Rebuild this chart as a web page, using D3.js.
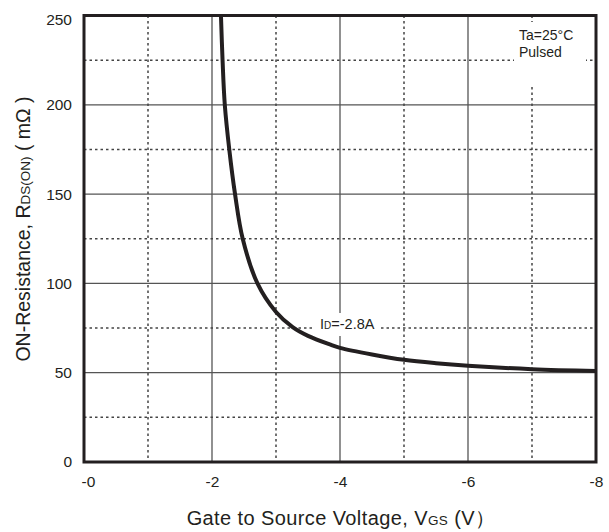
<!DOCTYPE html>
<html>
<head>
<meta charset="utf-8">
<script src="https://cdn.jsdelivr.net/npm/d3@7"></script>
<style>
  body { margin: 0; background: #fff; }
  svg { display: block; font-family: "Liberation Sans", Arial, sans-serif; }
</style>
</head>
<body>
<svg id="chart" width="609" height="532"></svg>
<script>
// ---- data ----
const vgs = [-2.14, -2.165, -2.20, -2.27, -2.36, -2.48, -2.71, -3.0, -3.26, -3.5, -3.84, -4.0, -4.5, -5.0, -5.5, -6.0, -7.0, -8.0];
const rds = [250, 225, 200, 175, 150, 125, 100, 84, 75.5, 70.6, 65.8, 63.9, 60.2, 57.2, 55.3, 53.9, 52.0, 51];
const xTickValues = [0, -2, -4, -6, -8];
const xTickLabels = ["-0", "-2", "-4", "-6", "-8"];
const xMinorValues = [-1, -3, -5, -7];
const yTickValues = [0, 50, 100, 150, 200, 250];
const yMinorValues = [25, 75, 125, 175, 225];

const svg = d3.select("#chart");
const L = 84, R = 596, T = 15.5, B = 462;
const x = d3.scaleLinear().domain([0, -8]).range([L, R]);
const y = d3.scaleLinear().domain([0, 250]).range([B, T]);

const grid = svg.append("g");
// solid major grid
grid.selectAll(".vx").data(xTickValues.slice(1, -1)).enter().append("line")
  .attr("x1", d => x(d)).attr("x2", d => x(d)).attr("y1", T).attr("y2", B)
  .attr("stroke", "#555").attr("stroke-width", 1.3);
grid.selectAll(".hy").data(yTickValues.slice(1, -1)).enter().append("line")
  .attr("x1", L).attr("x2", R).attr("y1", d => y(d)).attr("y2", d => y(d))
  .attr("stroke", "#555").attr("stroke-width", 1.3);
// dotted minor grid
grid.selectAll(".mx").data(xMinorValues).enter().append("line")
  .attr("x1", d => x(d)).attr("x2", d => x(d)).attr("y1", T).attr("y2", B)
  .attr("stroke", "#444").attr("stroke-width", 1.5).attr("stroke-dasharray", "2.5,3");
grid.selectAll(".my").data(yMinorValues).enter().append("line")
  .attr("x1", L).attr("x2", R).attr("y1", d => y(d)).attr("y2", d => y(d))
  .attr("stroke", "#444").attr("stroke-width", 1.5).attr("stroke-dasharray", "2.5,3");

// white backing for annotation text
svg.append("rect").attr("x", 514).attr("y", 22).attr("width", 72).attr("height", 64).attr("fill", "#fff");

// curve
svg.append("clipPath").attr("id", "clip").append("rect")
  .attr("x", L).attr("y", T).attr("width", R - L).attr("height", B - T);
const pts = vgs.map((v, i) => [v, rds[i]]);
const line = d3.line().x(d => x(d[0])).y(d => y(d[1])).curve(d3.curveCatmullRom.alpha(0.5));
svg.append("path").datum(pts).attr("d", line)
  .attr("fill", "none").attr("stroke", "#231f20").attr("stroke-width", 4)
  .attr("clip-path", "url(#clip)");

// ID label
svg.append("rect").attr("x", 313).attr("y", 313).attr("width", 68).attr("height", 23).attr("fill", "#fff");
const idl = svg.append("text").attr("x", 320).attr("y", 329).attr("font-size", 14.5).attr("fill", "#231f20");
idl.append("tspan").text("I");
idl.append("tspan").attr("font-size", 10).text("D");
idl.append("tspan").text("=-2.8A");

// Ta / Pulsed
svg.append("text").attr("x", 519).attr("y", 40).attr("font-size", 14).attr("fill", "#231f20").text("Ta=25°C");
svg.append("text").attr("x", 519).attr("y", 57).attr("font-size", 14).attr("fill", "#231f20").text("Pulsed");

// frame
svg.append("rect").attr("x", L).attr("y", T).attr("width", R - L).attr("height", B - T)
  .attr("fill", "none").attr("stroke", "#231f20").attr("stroke-width", 3);

// axes tick labels
const xAxis = d3.axisBottom(x).tickValues(xTickValues).tickSize(0).tickPadding(0)
  .tickFormat((d, i) => xTickLabels[i]);
const gx = svg.append("g").attr("transform", `translate(0,${B + 14})`).call(xAxis);
gx.select(".domain").remove();
gx.selectAll("text").attr("font-size", 15.5).attr("fill", "#231f20")
  .attr("font-family", "'Liberation Sans', Arial, sans-serif").attr("dy", "0.71em");
gx.selectAll(".tick").filter(d => d === 0).select("text").attr("dx", 4);

const yAxis = d3.axisLeft(y).tickValues(yTickValues).tickSize(0).tickPadding(12);
const gy = svg.append("g").attr("transform", `translate(${L},0)`).call(yAxis);
gy.select(".domain").remove();
gy.selectAll("text").attr("font-size", 15.5).attr("fill", "#231f20")
  .attr("font-family", "'Liberation Sans', Arial, sans-serif");
gy.selectAll(".tick").filter(d => d === 250).select("text").attr("dy", "0.55em");

// axis titles
const xt = svg.append("text").attr("x", 341).attr("y", 525).attr("text-anchor", "middle")
  .attr("font-size", 20).attr("letter-spacing", 0.4).attr("fill", "#231f20");
xt.append("tspan").text("Gate to Source Voltage, V");
xt.append("tspan").attr("font-size", 13.5).text("GS");
xt.append("tspan").text(" (V）");

const yt = svg.append("text").attr("transform", "translate(30,229) rotate(-90)")
  .attr("text-anchor", "middle").attr("font-size", 19.5).attr("fill", "#231f20");
yt.append("tspan").text("ON-Resistance, R");
yt.append("tspan").attr("font-size", 13.5).text("DS(ON)");
yt.append("tspan").text(" ( mΩ )");
</script>
</body>
</html>
